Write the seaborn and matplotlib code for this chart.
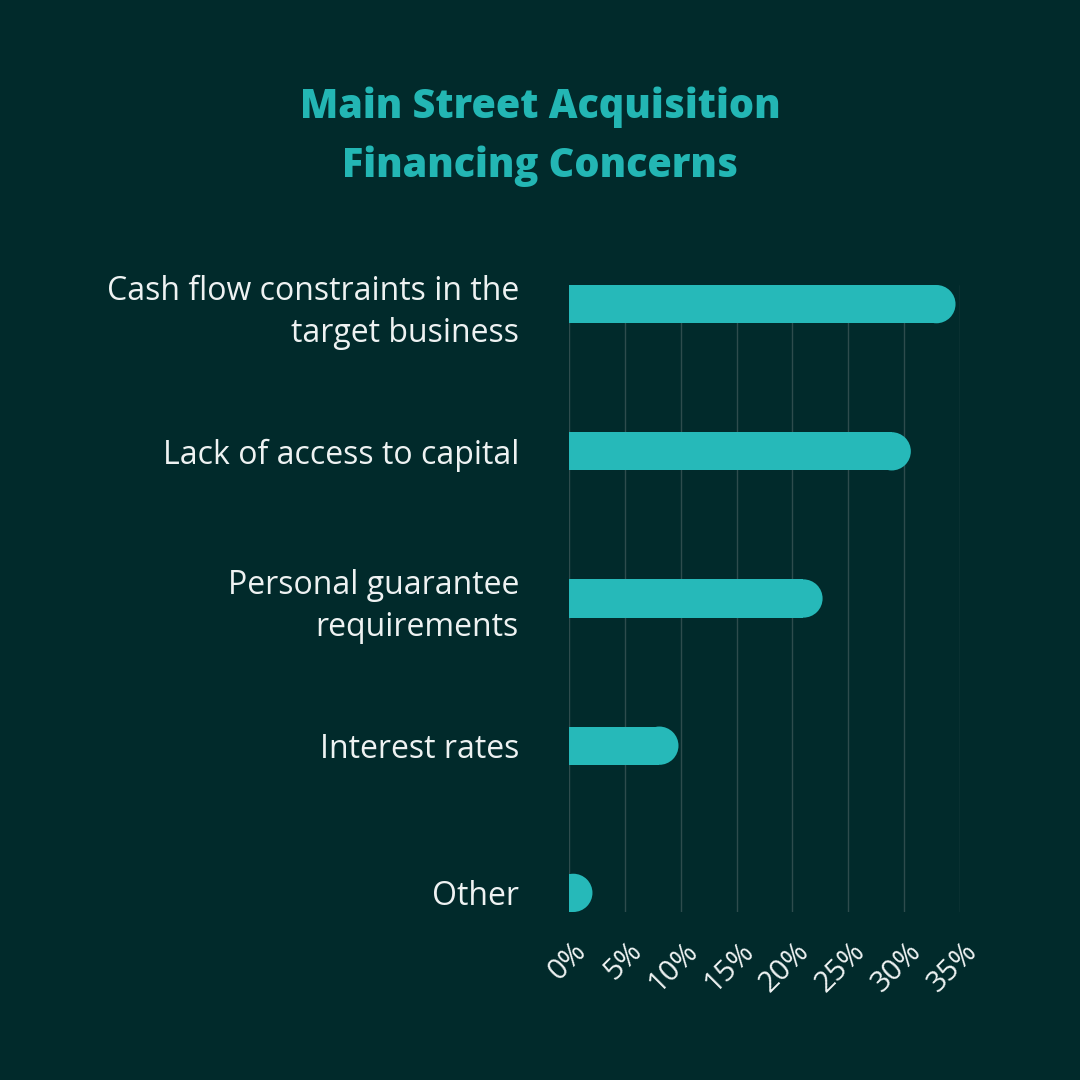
import matplotlib.pyplot as plt
import matplotlib.transforms as mtransforms
from matplotlib.patches import Ellipse
import seaborn as sns

# Chart data
categories = [
    'Cash flow constraints in the\ntarget business',
    'Lack of access to capital',
    'Personal guarantee\nrequirements',
    'Interest rates',
    'Other',
]
shares = [34.6, 30.6, 22.7, 9.8, 2.1]
tick_values = [0, 5, 10, 15, 20, 25, 30, 35]
tick_labels = ['0%', '5%', '10%', '15%', '20%', '25%', '30%', '35%']
title = 'Main Street Acquisition\nFinancing Concerns'

bg = '#012a2b'
bar_color = '#26b9b9'
title_color = '#23b6b4'
text_color = '#eef2f2'
grid_color = '#2e4c4d'

sns.set_style('white')
plt.rcParams['font.family'] = ['Open Sans', 'DejaVu Sans']

fig = plt.figure(figsize=(10.8, 10.8), dpi=100, facecolor=bg)
ax = fig.add_axes([569 / 1080, 1 - 912 / 1080, 391 / 1080, 627 / 1080])
ax.set_facecolor(bg)

bar_h = 0.26
sns.barplot(x=shares, y=categories, orient='h', color=bar_color,
            saturation=1, width=bar_h, linewidth=0, ax=ax)

ax.set_xlim(0, 35)
ax.set_ylim(len(categories) - 1 + bar_h / 2, -bar_h / 2)

# round the right end of each bar (half-circle in screen space)
px_x = ax.transData.transform((1, 0))[0] - ax.transData.transform((0, 0))[0]
px_y = abs(ax.transData.transform((0, 1))[1] - ax.transData.transform((0, 0))[1])
for p in list(ax.patches):
    w, h = p.get_width(), p.get_height()
    r_x = (h * px_y / 2) / px_x
    p.set_width(max(w - r_x, 0))
    cap = Ellipse((w - r_x, p.get_y() + h / 2), 2 * r_x, h,
                  facecolor=bar_color, edgecolor='none')
    ax.add_patch(cap)

ax.set_xticks(tick_values)
ax.set_xticklabels(tick_labels, rotation=45, ha='right', va='center',
                   rotation_mode='anchor', fontsize=21, color=text_color)

for lab in ax.get_yticklabels():
    lab.set_fontsize(23)
    lab.set_color(text_color)
    lab.set_linespacing(1.35)

ax.tick_params(axis='x', length=0, pad=25)
ax.tick_params(axis='y', length=0, pad=36)
ax.grid(axis='x', color=grid_color, linewidth=1)
ax.grid(axis='y', visible=False)
ax.set_axisbelow(True)
sns.despine(ax=ax, left=True, bottom=True)
ax.set_xlabel('')
ax.set_ylabel('')

# nudge rotated x labels to the right (after tick_params, which resets transforms)
shift = mtransforms.ScaledTranslation(13 / 100, 0, fig.dpi_scale_trans)
for lab in ax.get_xticklabels():
    lab.set_transform(lab.get_transform() + shift)

fig.text(0.5, 1 - 137 / 1080, title, ha='center', va='center',
         fontsize=28.5, fontweight='heavy', color=title_color, linespacing=1.55)

fig.savefig('out.png', dpi=100, facecolor=bg)
